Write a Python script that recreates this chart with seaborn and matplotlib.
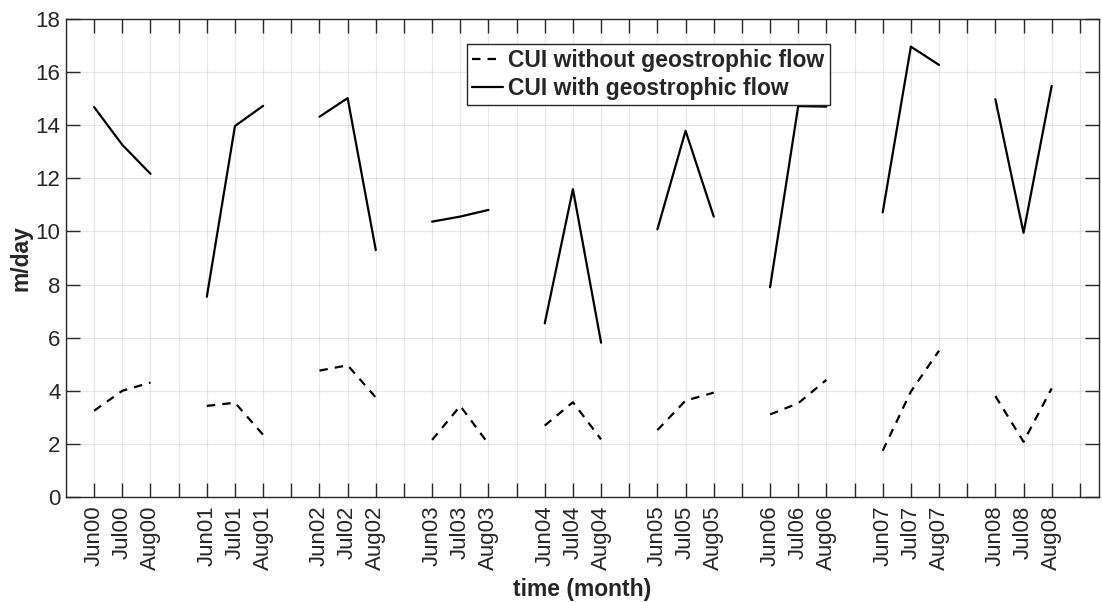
import numpy as np
import pandas as pd
import matplotlib
matplotlib.use("Agg")
import matplotlib.pyplot as plt
import seaborn as sns
from matplotlib.lines import Line2D

years = ["00", "01", "02", "03", "04", "05", "06", "07", "08"]
months = ["Jun", "Jul", "Aug"]

cui_with = [14.68, 13.26, 12.17,
            7.54, 13.97, 14.73,
            14.32, 15.02, 9.30,
            10.37, 10.56, 10.81,
            6.54, 11.59, 5.81,
            10.08, 13.79, 10.56,
            7.90, 14.72, 14.70,
            10.72, 16.96, 16.27,
            14.98, 9.95, 15.48]

cui_without = [3.25, 4.00, 4.31,
               3.43, 3.55, 2.34,
               4.76, 4.96, 3.75,
               2.15, 3.43, 2.00,
               2.69, 3.57, 2.17,
               2.52, 3.63, 3.93,
               3.11, 3.53, 4.41,
               1.74, 3.97, 5.51,
               3.80, 2.08, 4.09]

# positions: 3 months per year plus one empty slot
pos, yr = [], []
tick_pos, tick_lab = [], []
for i, y in enumerate(years):
    for j, m in enumerate(months):
        p = i * 4 + j + 1
        pos.append(p)
        yr.append(y)
        tick_pos.append(p)
        tick_lab.append(m + y)
    tick_pos.append(i * 4 + 4)
    tick_lab.append("")

df = pd.DataFrame({"pos": pos, "year": yr,
                   "with": cui_with, "without": cui_without})

sns.set_style("white")
plt.rcParams["font.family"] = ["Liberation Sans", "DejaVu Sans"]

fig = plt.figure(figsize=(11.02, 6.02), dpi=100)
ax = fig.add_axes([66 / 1102, 105 / 602, 1033 / 1102, 478 / 602])

dark = "#262626"
dash = (0, (3.8, 3.2))
sns.lineplot(data=df, x="pos", y="without", units="year", estimator=None,
             color="black", linewidth=1.6, ax=ax,
             linestyle=dash, sort=False)
sns.lineplot(data=df, x="pos", y="with", units="year", estimator=None,
             color="black", linewidth=1.6, ax=ax, sort=False)

ax.set_xlim(0, 36.68)
ax.set_ylim(0, 18)
ax.set_yticks(np.arange(0, 19, 2))
ax.set_xticks(tick_pos)
ax.set_xticklabels(tick_lab, rotation=90, fontsize=16, color=dark)
ax.tick_params(axis="y", labelsize=16, labelcolor=dark)
ax.tick_params(direction="in", length=10, width=1.0, color=dark,
               top=True, right=True, bottom=True, left=True)
ax.tick_params(axis="x", pad=6)
ax.tick_params(axis="y", pad=4)

ax.grid(True, color="#262626", alpha=0.1, linewidth=0.9)
for s in ax.spines.values():
    s.set_color(dark)
    s.set_linewidth(1.0)
    s.set_visible(True)

ax.set_xlabel("time (month)", fontsize=16.5, fontweight="bold", color=dark,
              labelpad=6)
ax.set_ylabel("m/day", fontsize=16.5, fontweight="bold", color=dark,
              labelpad=2)

handles = [Line2D([], [], color="black", linewidth=1.6, linestyle=dash),
           Line2D([], [], color="black", linewidth=1.6)]
leg = ax.legend(handles, ["CUI without geostrophic flow",
                          "CUI with geostrophic flow"],
                loc="upper left",
                bbox_to_anchor=((466.7 - 66) / 1033, (497 - 44) / 478),
                prop={"size": 16.5, "weight": "bold"},
                handlelength=1.35, handletextpad=0.25, borderpad=0.22,
                labelspacing=0.2, borderaxespad=0, fancybox=False,
                framealpha=1, edgecolor=dark)
leg.get_frame().set_linewidth(1.0)

fig.savefig("out.png", dpi=100)
